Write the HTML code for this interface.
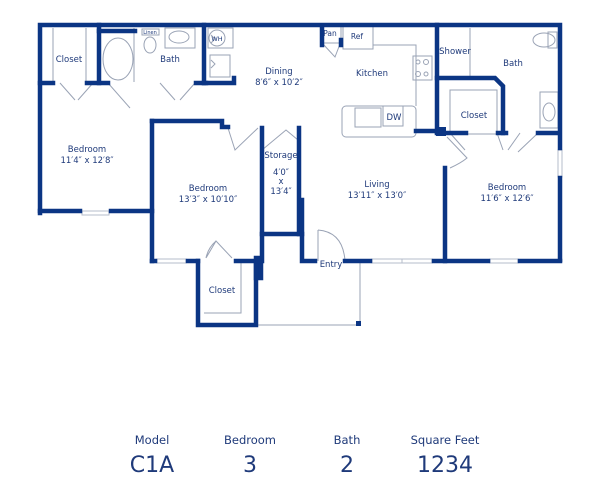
<!DOCTYPE html>
<html><head><style>
body{margin:0;background:#fff;width:600px;height:490px;overflow:hidden}
svg{display:block}
text{font-family:"DejaVu Sans","Liberation Sans",sans-serif;fill:#1f3a7a}
</style></head><body>
<svg width="600" height="490" viewBox="0 0 600 490">
<g stroke="#9aa3b5" stroke-width="1" fill="none">
 <ellipse cx="118" cy="59" rx="15" ry="21"/>
 <line x1="134" y1="28" x2="134" y2="82"/>
 <ellipse cx="150" cy="45" rx="6" ry="8"/>
 <rect x="142" y="29" width="17" height="6"/>
 <rect x="165" y="28" width="30" height="20"/>
 <ellipse cx="179" cy="37" rx="10" ry="6"/>
 <rect x="208" y="28" width="25" height="20"/>
 <circle cx="217" cy="38" r="8"/>
 <rect x="210" y="55" width="20" height="22"/>
 <line x1="53" y1="28" x2="53" y2="83"/><line x1="86" y1="28" x2="86" y2="83"/>
 <rect x="322" y="25" width="19" height="18"/>
 <rect x="343" y="25" width="30" height="24"/>
 <polyline points="373,45 416,45 416,106"/>
 <rect x="413" y="56" width="19" height="24"/>
 <circle cx="418" cy="62" r="2"/><circle cx="426" cy="62" r="2.5"/><circle cx="418" cy="74" r="2.5"/><circle cx="426" cy="74" r="2"/>
 <rect x="342" y="106" width="74" height="31" rx="4"/>
 <rect x="355" y="108" width="26" height="19"/>
 <rect x="383" y="106" width="20" height="20"/>
 <line x1="470" y1="28" x2="470" y2="78"/>
 <ellipse cx="544" cy="40" rx="11" ry="7"/>
 <rect x="548" y="32" width="9" height="16"/>
 <rect x="540" y="92" width="18" height="36"/>
 <ellipse cx="549" cy="112" rx="6" ry="9"/>
 <rect x="450" y="90" width="47" height="44"/>
 <polyline points="236,262 241,262 241,313 204,313"/>
 <polyline points="257,325 360,325 360,262"/>
 <path d="M60,83 L75,100 M93,83 L78,100"/>
 <path d="M160,83 L175,100 M195,83 L180,100"/>
 <path d="M108,83 L130,108"/>
 <path d="M450,133 L465,150 M520,133 L508,150 M538,133 L518,152 M497,133 L503,150"/>
 <path d="M447,137 L467,158 Q461,163 450,168"/>
 <path d="M228,128 L235,150 L258,128"/>
 <path d="M206,258 L216,241 L232,258 M216,241 Q208,248 206,258"/>
 <path d="M318,230 Q343,232 345,261 M318,230 L318,261"/>
 <path d="M298,140 L286,130 L262,150"/>
 <path d="M323,44 L335,57 L340,44"/>
 <path d="M211,35 l4,4 l-4,4 M211,60 l4,4 l-4,4"/>
</g>
<g stroke="#b6bccb" stroke-width="1" fill="none">
 <rect x="82" y="211" width="27" height="4"/><rect x="157" y="259" width="29" height="4"/>
 <rect x="372" y="259" width="60" height="4"/><line x1="402" y1="259" x2="402" y2="263"/>
 <rect x="490" y="259" width="28" height="4"/><rect x="558" y="150" width="4" height="27"/>
</g>
<g stroke="#0b3584" stroke-width="4.5" fill="none" stroke-linecap="square">
 <polyline points="40,213 40,25 560,25 560,148"/>
 <line x1="560" y1="178" x2="560" y2="260"/>
 <line x1="40" y1="211" x2="80" y2="211"/><line x1="111" y1="211" x2="152" y2="211"/>
 <line x1="152" y1="121" x2="152" y2="261"/>
 <line x1="152" y1="261" x2="155" y2="261"/><line x1="188" y1="261" x2="198" y2="261"/>
 <polyline points="198,261 198,325 256,325 256,261 236,261"/>
 <rect x="256" y="258" width="5" height="20" fill="#0b3584"/>
 <polyline points="258,261 262,261 262,128"/>
 <polyline points="152,121 222,121 222,127 228,127"/>
 <line x1="299" y1="128" x2="299" y2="234"/>
 <line x1="262" y1="234" x2="302" y2="234"/>
 <polyline points="302,200 302,261 315,261"/>
 <line x1="345" y1="261" x2="370" y2="261"/><line x1="434" y1="261" x2="488" y2="261"/><line x1="520" y1="261" x2="560" y2="261"/>
 <line x1="445" y1="168" x2="445" y2="261"/>
 <line x1="40" y1="83" x2="53" y2="83"/><line x1="87" y1="83" x2="108" y2="83"/><line x1="196" y1="83" x2="206" y2="83"/>
 <line x1="99" y1="25" x2="99" y2="83"/><line x1="99" y1="31" x2="135" y2="31"/>
 <line x1="204" y1="25" x2="204" y2="83"/>
 <polyline points="204,83 234,83 234,78"/>
 <line x1="437" y1="25" x2="437" y2="132"/>
 <line x1="416" y1="131" x2="437" y2="131"/>
 <polyline points="437,78 495,78 503,86 503,133"/>
 <line x1="437" y1="133" x2="466" y2="133"/><line x1="498" y1="133" x2="506" y2="133"/><line x1="538" y1="133" x2="558" y2="133"/>
 <line x1="322" y1="28" x2="322" y2="45"/><line x1="341" y1="40" x2="341" y2="45"/>
</g>
<rect x="436" y="127" width="10" height="9" fill="#0b3584"/>
<rect x="356" y="321" width="5" height="5" fill="#0b3584"/>
<g font-size="8.5" text-anchor="middle">
 <text x="69" y="62">Closet</text>
 <text x="170" y="62">Bath</text>
 <text x="279" y="74">Dining</text><text x="279" y="85">8′6″ x 10′2″</text>
 <text x="372" y="76">Kitchen</text>
 <text x="513" y="66">Bath</text>
 <text x="455" y="54">Shower</text>
 <text x="474" y="118">Closet</text>
 <text x="87" y="152">Bedroom</text><text x="87" y="163">11′4″ x 12′8″</text>
 <text x="208" y="191">Bedroom</text><text x="208" y="202">13′3″ x 10′10″</text>
 <text x="281" y="158">Storage</text><text x="281" y="175">4′0″</text><text x="281" y="184">x</text><text x="281" y="194">13′4″</text>
 <text x="377" y="187">Living</text><text x="377" y="198">13′11″ x 13′0″</text>
 <text x="507" y="190">Bedroom</text><text x="507" y="201">11′6″ x 12′6″</text>
 <text x="222" y="293">Closet</text>
 <text x="331" y="267">Entry</text>
 <text x="330" y="36" font-size="7.5">Pan</text>
 <text x="357" y="39" font-size="7.5">Ref</text>
 <text x="394" y="120">DW</text>
 <text x="217" y="41" font-size="6.5">WH</text>
 <text x="150" y="34" font-size="5">Linen</text>
</g>
<g text-anchor="middle">
 <text x="152" y="444" font-size="11.5">Model</text>
 <text x="250" y="444" font-size="11.5">Bedroom</text>
 <text x="347" y="444" font-size="11.5">Bath</text>
 <text x="445" y="444" font-size="11.5">Square Feet</text>
 <text x="152" y="472" font-size="22">C1A</text>
 <text x="250" y="472" font-size="22">3</text>
 <text x="347" y="472" font-size="22">2</text>
 <text x="445" y="472" font-size="22">1234</text>
</g>
</svg>
</body></html>
